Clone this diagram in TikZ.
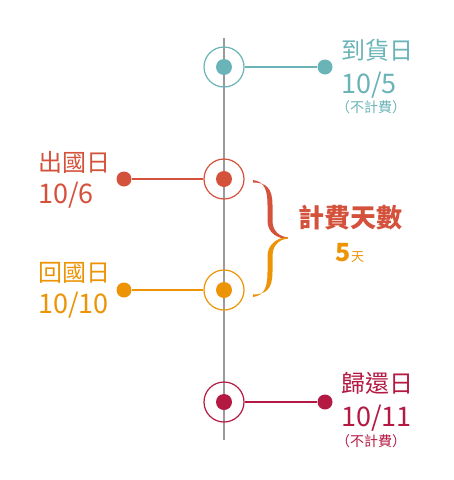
\documentclass[tikz,border=0pt]{standalone}
\usepackage{fontspec}
\setmainfont{Noto Sans CJK TC}
\definecolor{cteal}{HTML}{6AB3B7}
\definecolor{cred}{HTML}{D4513B}
\definecolor{corange}{HTML}{EC9405}
\definecolor{ccrim}{HTML}{B31942}
\definecolor{cgray}{HTML}{9A9A9A}
\begin{document}
\begin{tikzpicture}[x=1pt,y=-1pt,
  ring/.style={circle,draw,line width=1.2pt,minimum size=40pt,inner sep=0pt},
  hub/.style={circle,fill,minimum size=16pt,inner sep=0pt},
  enddot/.style={circle,fill,minimum size=15pt,inner sep=0pt},
  conn/.style={line width=1.3pt},
  lbl/.style={inner sep=0pt,anchor=west,font=\fontsize{24}{24}\selectfont},
  datelbl/.style={inner sep=0pt,anchor=west,font=\fontsize{27}{27}\selectfont},
  note/.style={inner sep=0pt,anchor=west,font=\fontsize{14}{14}\selectfont}]
\useasboundingbox (0,0) rectangle (454,480);
\coordinate (ltop) at (224,38);
\coordinate (lbot) at (224,440);
\draw[cgray,line width=1.5pt] (ltop) -- (lbot);
% rings
\node[ring,cteal] (r1) at (224,67) {};
\node[ring,cred] (r2) at (224,179) {};
\node[ring,corange] (r3) at (224,290) {};
\node[ring,ccrim] (r4) at (224,402) {};
% end dots
\node[enddot,cteal] (d1) at (325,67) {};
\node[enddot,cred] (d2) at (124,179) {};
\node[enddot,corange] (d3) at (124,290) {};
\node[enddot,ccrim] (d4) at (325,402) {};
% connectors
\draw[conn,cteal] (r1) -- (d1);
\draw[conn,cred] (r2) -- (d2);
\draw[conn,corange] (r3) -- (d3);
\draw[conn,ccrim] (r4) -- (d4);
% hubs
\node[hub,cteal] (h1) at (224,67) {};
\node[hub,cred] (h2) at (224,179) {};
\node[hub,corange] (h3) at (224,290) {};
\node[hub,ccrim] (h4) at (224,402) {};
% labels
\node[lbl,cteal] (t1) at (341,50) {到貨日};
\node[datelbl,cteal] (t1d) at (341,85) {10/5};
\node[note,cteal] (t1n) at (336,107) {（不計費）};
\node[lbl,cred] (t2) at (38,162) {出國日};
\node[datelbl,cred] (t2d) at (38,195) {10/6};
\node[lbl,corange] (t3) at (38,273) {回國日};
\node[datelbl,corange] (t3d) at (38,305) {10/10};
\node[lbl,ccrim] (t4) at (341,383) {歸還日};
\node[datelbl,ccrim] (t4d) at (341,418) {10/11};
\node[note,ccrim] (t4n) at (336,441) {（不計費）};
% brace
\fill[cred] (253,180) .. controls (265,181.5) and (267.5,191) .. (267.5,205) -- (267.5,221)
  .. controls (267.5,233) and (278,238.8) .. (287.5,238.8) -- (287.5,237.2)
  .. controls (281,237) and (272.5,232) .. (272.5,221) -- (272.5,205)
  .. controls (272.5,188) and (266,182.5) .. (253,182.5) -- cycle;
\fill[corange] (253,297) .. controls (265,295.5) and (267.5,286) .. (267.5,272) -- (267.5,256)
  .. controls (267.5,244) and (278,237.2) .. (287.5,237.2) -- (287.5,238.8)
  .. controls (281,239) and (272.5,244) .. (272.5,256) -- (272.5,272)
  .. controls (272.5,289) and (266,294.5) .. (253,294.5) -- cycle;
\node[inner sep=0pt,cred,font=\fontsize{26}{26}\selectfont\bfseries] (tot) at (350,218) {計費天數};
\node[inner sep=0pt,corange,anchor=base] (days) at (350,261) {{\fontsize{25}{25}\selectfont\bfseries 5}{\fontsize{13}{13}\selectfont 天}};
\end{tikzpicture}
\end{document}
